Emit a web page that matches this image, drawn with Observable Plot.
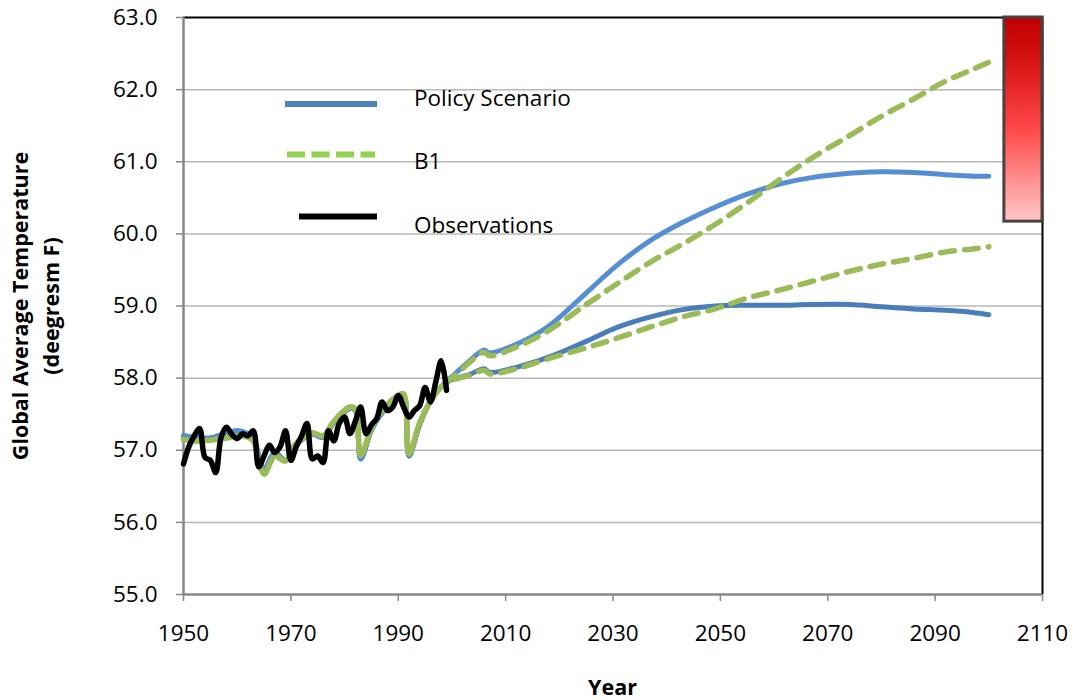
<!DOCTYPE html>
<html>
<head>
<meta charset="utf-8">
<script src="https://cdn.jsdelivr.net/npm/d3@7"></script>
<script src="https://cdn.jsdelivr.net/npm/@observablehq/plot@0.6"></script>
<style>
  html, body { margin: 0; padding: 0; background: #fff; }
  #chart { width: 1073px; height: 700px; }
  svg text { font-family: "Open Sans", Lato, sans-serif; }
</style>
</head>
<body>
<div id="chart"></div>
<script>
// Axis ticks
const xTicks = [1950, 1970, 1990, 2010, 2030, 2050, 2070, 2090, 2110];
const yTicks = [55, 56, 57, 58, 59, 60, 61, 62, 63];

// Modelled history, 1950-1998 (shared by both bounds of each scenario)
const histYears = [1950, 1952, 1955, 1958, 1960, 1962, 1963, 1965, 1967, 1969, 1971, 1974, 1976,
                   1978, 1981, 1982, 1983, 1985, 1987, 1990, 1991, 1992, 1994, 1996, 1998];
const policyHist = [57.20, 57.18, 57.17, 57.24, 57.27, 57.23, 57.18, 56.74, 56.97, 56.86, 57.08, 57.22, 57.18,
                    57.38, 57.58, 57.55, 56.88, 57.28, 57.52, 57.74, 57.76, 56.92, 57.36, 57.68, 57.88];
const b1Hist = [57.15, 57.13, 57.14, 57.17, 57.20, 57.18, 57.13, 56.67, 56.92, 56.85, 57.10, 57.24, 57.20,
                57.40, 57.60, 57.58, 56.93, 57.30, 57.55, 57.76, 57.78, 56.95, 57.38, 57.68, 57.88];

// Projections, 2000-2100: upper and lower bounds
const projYears = [2000, 2003, 2006, 2007, 2012, 2018, 2025, 2031, 2037, 2043,
                   2049, 2055, 2061, 2067, 2074, 2080, 2086, 2092, 2097, 2100];
const policyHigh = [58.02, 58.22, 58.39, 58.35, 58.47, 58.72, 59.18, 59.58, 59.91, 60.16,
                    60.37, 60.55, 60.69, 60.78, 60.84, 60.86, 60.85, 60.82, 60.80, 60.80];
const policyLow = [57.98, 58.04, 58.13, 58.08, 58.15, 58.29, 58.51, 58.71, 58.85, 58.95,
                   59.00, 59.01, 59.01, 59.02, 59.02, 58.99, 58.96, 58.94, 58.91, 58.88];
const b1High = [58.00, 58.20, 58.36, 58.31, 58.43, 58.66, 59.02, 59.32, 59.61, 59.86,
                60.13, 60.43, 60.75, 61.05, 61.36, 61.63, 61.87, 62.12, 62.28, 62.38];
const b1Low = [57.97, 58.03, 58.11, 58.06, 58.13, 58.27, 58.42, 58.56, 58.71, 58.85,
               58.96, 59.11, 59.22, 59.34, 59.48, 59.58, 59.66, 59.75, 59.79, 59.82];

// Observed global average temperature
const obsYears = d3.range(1950, 2000);
const obsTemps = [56.81, 57.05, 57.20, 57.30, 56.90, 56.86, 56.69, 57.18, 57.32, 57.22,
                  57.16, 57.23, 57.20, 57.27, 56.77, 56.92, 57.07, 56.97, 57.05, 57.27,
                  56.86, 57.05, 57.20, 57.37, 56.88, 56.92, 56.83, 57.27, 57.13, 57.37,
                  57.46, 57.23, 57.40, 57.60, 57.23, 57.35, 57.44, 57.67, 57.55, 57.60,
                  57.76, 57.60, 57.46, 57.55, 57.62, 57.87, 57.67, 57.95, 58.24, 57.83];

// High-emissions range shown as a bar at the right edge
const rangeBarYears = [2102.9, 2110];
const rangeBarTemps = [60.17, 63.0];

const toRows = (years, temps) => years.map((year, i) => ({year, temp: temps[i]}));
const policyHighRows = toRows(histYears.concat(projYears), policyHist.concat(policyHigh));
const policyLowRows = toRows(histYears.concat(projYears), policyHist.concat(policyLow));
const b1HighRows = toRows(histYears.concat(projYears), b1Hist.concat(b1High));
const b1LowRows = toRows(histYears.concat(projYears), b1Hist.concat(b1Low));
const obsRows = toRows(obsYears, obsTemps);
const rangeRows = [{start: rangeBarYears[0], end: rangeBarYears[1], low: rangeBarTemps[0], high: rangeBarTemps[1]}];

const gray = "#878787";
const green = "#9bbb59";
const fontFamily = "'Open Sans', Lato, sans-serif";

const gradientDefs = () => {
  const defs = d3.create("svg:defs");
  const g = defs.append("linearGradient")
    .attr("id", "heatGradient")
    .attr("x1", 0).attr("y1", 0).attr("x2", 0).attr("y2", 1);
  g.append("stop").attr("offset", "0%").attr("stop-color", "#c00000");
  g.append("stop").attr("offset", "22%").attr("stop-color", "#d81414");
  g.append("stop").attr("offset", "55%").attr("stop-color", "#ff4848");
  g.append("stop").attr("offset", "100%").attr("stop-color", "#ffc8c8");
  return defs.node();
};

const chart = Plot.plot({
  width: 1073,
  height: 700,
  marginLeft: 183,
  marginRight: 31,
  marginTop: 17,
  marginBottom: 106,
  style: {fontFamily, fontSize: "22.5px", color: "#000", background: "#fff", overflow: "visible"},
  x: {domain: [1950, 2110]},
  y: {domain: [55, 63]},
  marks: [
    gradientDefs,
    Plot.gridY(yTicks.filter(t => t > 55 && t < 63), {stroke: "#b8b8b8", strokeOpacity: 1, strokeWidth: 1.5}),
    Plot.ruleY([63], {stroke: "#000", strokeWidth: 2}),
    Plot.ruleX([2110], {stroke: "#000", strokeWidth: 2}),
    Plot.ruleX([1950], {stroke: gray, strokeWidth: 2.5}),
    Plot.ruleY([55], {stroke: gray, strokeWidth: 2.5}),
    Plot.axisY({ticks: yTicks, tickSize: 7, tickPadding: 19, tickFormat: d3.format(".1f"),
                stroke: gray, strokeWidth: 1.5, fill: "#000", label: null, fontSize: 22.5}),
    Plot.axisX({ticks: xTicks, tickSize: 7, tickPadding: 24, tickFormat: d3.format("d"),
                stroke: gray, strokeWidth: 1.5, fill: "#000", label: null, fontSize: 22.5}),
    Plot.line(policyLowRows, {x: "year", y: "temp", stroke: "#4a7ebb", strokeWidth: 5, curve: "catmull-rom"}),
    Plot.line(policyHighRows, {x: "year", y: "temp", stroke: "#558ed5", strokeWidth: 5, curve: "catmull-rom"}),
    Plot.line(b1LowRows, {x: "year", y: "temp", stroke: green, strokeWidth: 5.5, curve: "catmull-rom",
                          strokeDasharray: "14,10", strokeDashoffset: 12}),
    Plot.line(b1HighRows, {x: "year", y: "temp", stroke: green, strokeWidth: 5.5, curve: "catmull-rom",
                           strokeDasharray: "14,10"}),
    Plot.line(obsRows, {x: "year", y: "temp", stroke: "#000", strokeWidth: 5.5, curve: "catmull-rom"}),
    Plot.rect(rangeRows, {x1: "start", x2: "end", y1: "low", y2: "high",
                          fill: "url(#heatGradient)", stroke: "#4a4141", strokeWidth: 3})
  ]
});

document.getElementById("chart").appendChild(chart);

// Legend and axis titles
const svg = d3.select(chart);
const legend = svg.append("g").attr("text-anchor", "start");
legend.append("line").attr("x1", 285).attr("x2", 377).attr("y1", 104).attr("y2", 104)
  .attr("stroke", "#4f81bd").attr("stroke-width", 6);
legend.append("line").attr("x1", 287).attr("x2", 375).attr("y1", 154.5).attr("y2", 154.5)
  .attr("stroke", "#92d050").attr("stroke-width", 6).attr("stroke-dasharray", "18,6.5");
legend.append("line").attr("x1", 299).attr("x2", 377).attr("y1", 216.5).attr("y2", 216.5)
  .attr("stroke", "#000").attr("stroke-width", 6);
const legendLabels = [["Policy Scenario", 106], ["B1", 169], ["Observations", 233]];
legendLabels.forEach(([label, y]) => {
  legend.append("text").attr("x", 414).attr("y", y)
    .attr("font-size", 22.5).attr("fill", "#000").text(label);
});

const titles = svg.append("g").attr("text-anchor", "middle")
  .attr("font-size", 21.5).attr("font-weight", "bold").attr("fill", "#000");
titles.append("text")
  .attr("transform", "translate(28,306) rotate(-90)")
  .text("Global Average Temperature");
titles.append("text")
  .attr("transform", "translate(59,306) rotate(-90)")
  .text("(deegresm F)");
titles.append("text")
  .attr("x", 612.5).attr("y", 695)
  .text("Year");
</script>
</body>
</html>
